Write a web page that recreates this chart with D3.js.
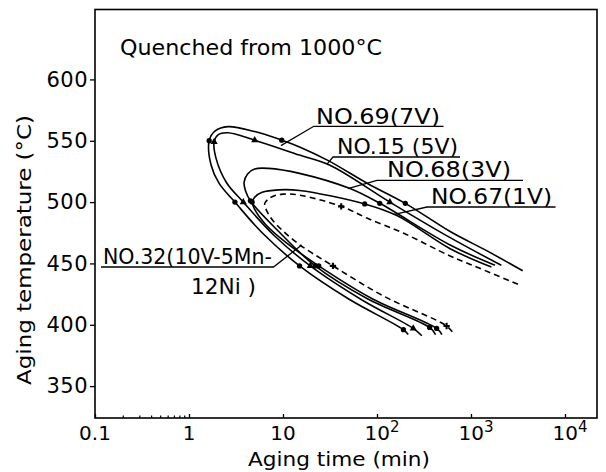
<!DOCTYPE html>
<html>
<head>
<meta charset="utf-8">
<script src="https://cdn.jsdelivr.net/npm/d3@7"></script>
<style>
  body { margin: 0; background: #fff; }
  text { font-family: "DejaVu Sans", sans-serif; fill: #000; }
</style>
</head>
<body>
<div id="chart"></div>
<script>
// C-curves, [aging time (min), temperature (C)]: upper branch end -> nose -> lower branch end
var no69 = [[3550,444],[1500,460],[600,476],[200,499],[80,515],[30,534],[15,545],[9.7,550.5],[5,557.5],[2.6,561.5],[1.9,558],[1.64,550],
            [1.72,530],[2.1,515],[3.08,500],[6,475],[15,448],[50,421],[191,396],[215,392]];
var no15 = [[2100,448.5],[600,471],[137,500],[31.6,530],[15,538.3],[5,550.5],[2.6,556.5],[2.05,555],[1.85,549],
            [1.95,535],[2.5,516],[3.78,500],[8,473],[19.5,448],[70,420],[243,397],[300,391]];
var no68 = [[1800,448.5],[600,465],[107,499],[51.6,511],[15,523.4],[7,527.5],[5,527],[4.2,523],[3.85,516],
            [4,509],[4.5,501],[9,476],[22,448],[80,421],[363,397.8],[420,392]];
var no67 = [[1650,447],[600,462],[163,489],[74,498.5],[15,509.5],[9,510],[6,508],[5,504],[4.7,500],
            [5,494],[6.5,482],[10,469],[24,448],[90,421],[431,397],[490,392]];
var no32 = [[3160,433],[1000,449],[600,456],[200,474],[78,487],[41.6,496.5],[15,505.7],[10,506.5],[8,505],[7,502.5],[6.4,498.9],
            [6.7,493],[8,484],[14,467],[34,448],[120,423],[550,399],[650,393]];

// plotted data points on each curve
var no69Marks = [[9.7,550.5],[1.64,550],[200,499],[3.08,500],[15,448],[191,396]];
var no15Marks = [[5,550.5],[1.85,549],[137,500],[3.78,500],[19.5,448],[243,397]];
var no68Marks = [[107,499],[4.5,501],[22,448],[363,397.8]];
var no67Marks = [[74,498.5],[4.7,500],[24,448],[431,397]];
var no32Marks = [[41.6,496.5],[34,448],[550,399]];

var xTicks = [0.1, 1, 10, 100, 1000, 10000];
var xTickLabels = ["0.1", "1", "10", "10^2", "10^3", "10^4"];
var xMinor = [0.2, 0.3, 0.4, 0.5, 0.6, 0.7, 0.8, 0.9];
var yTicks = [350, 400, 450, 500, 550, 600];

var width = 606, height = 472;
var margin = {top: 9.5, right: 9, bottom: 54, left: 95};

var x = d3.scaleLog()
    .domain([0.1, 21900])
    .range([margin.left, width - margin.right]);
var y = d3.scaleLinear()
    .domain([324, 657])
    .range([height - margin.bottom, margin.top]);

var svg = d3.select("#chart").append("svg")
    .attr("width", width)
    .attr("height", height);

// frame
svg.append("rect")
    .attr("x", margin.left).attr("y", margin.top)
    .attr("width", width - margin.right - margin.left)
    .attr("height", height - margin.bottom - margin.top)
    .attr("fill", "none").attr("stroke", "#000").attr("stroke-width", 1.6);

// y axis
var yAxis = svg.append("g")
    .attr("transform", "translate(" + margin.left + ",0)")
    .call(d3.axisLeft(y).tickValues(yTicks).tickSize(5).tickPadding(2));
yAxis.select(".domain").remove();
yAxis.selectAll("line").attr("stroke-width", 1.3);
yAxis.selectAll("text")
    .style("font-size", "21px")
    .attr("letter-spacing", "0.5px")
    .attr("fill", "#000");

// x axis, ticks pointing inward
var xAxis = svg.append("g")
    .attr("transform", "translate(0," + (height - margin.bottom) + ")")
    .call(d3.axisBottom(x).tickValues(xTicks).tickSize(-4).tickFormat(""));
xAxis.select(".domain").remove();
xAxis.selectAll("line").attr("stroke-width", 1.3);

svg.append("g").selectAll("line")
    .data(xMinor)
  .enter().append("line")
    .attr("x1", function(d) { return x(d); })
    .attr("x2", function(d) { return x(d); })
    .attr("y1", height - margin.bottom)
    .attr("y2", height - margin.bottom - 2.5)
    .attr("stroke", "#000").attr("stroke-width", 1.2);

var xl = svg.append("g").selectAll("text")
    .data(xTicks)
  .enter().append("text")
    .attr("x", function(d) { return x(d); })
    .attr("y", 440)
    .attr("text-anchor", "middle")
    .style("font-size", "20px");
xl.each(function(d, i) {
  var parts = xTickLabels[i].split("^");
  var t = d3.select(this);
  t.append("tspan").text(parts[0]);
  if (parts[1]) {
    t.append("tspan").attr("dy", -8).style("font-size", "15px").text(parts[1]);
    t.attr("dx", 5);
  }
});

// axis titles
svg.append("text")
    .attr("x", 339).attr("y", 466)
    .attr("text-anchor", "middle")
    .attr("textLength", 182).attr("lengthAdjust", "spacingAndGlyphs")
    .style("font-size", "19px")
    .text("Aging time (min)");

svg.append("text")
    .attr("transform", "translate(31,250) rotate(-90)")
    .attr("text-anchor", "middle")
    .attr("textLength", 270).attr("lengthAdjust", "spacingAndGlyphs")
    .style("font-size", "20px")
    .text("Aging temperature (\u00B0C)");

svg.append("text")
    .attr("x", 120).attr("y", 55)
    .attr("textLength", 262).attr("lengthAdjust", "spacingAndGlyphs")
    .style("font-size", "21px")
    .text("Quenched from 1000\u00B0C");

// curves
var series = [
  {pts: no69, marks: no69Marks, dash: null, sym: d3.symbolCircle},
  {pts: no15, marks: no15Marks, dash: null, sym: d3.symbolTriangle},
  {pts: no68, marks: no68Marks, dash: null, sym: d3.symbolCircle},
  {pts: no67, marks: no67Marks, dash: null, sym: d3.symbolCircle},
  {pts: no32, marks: no32Marks, dash: "6,4", sym: d3.symbolCross}
];

var line = d3.line()
    .x(function(d) { return x(d[0]); })
    .y(function(d) { return y(d[1]); })
    .curve(d3.curveCatmullRom.alpha(0.5));

var g = svg.selectAll(".curve")
    .data(series)
  .enter().append("g")
    .attr("class", "curve");

g.append("path")
    .attr("d", function(d) { return line(d.pts); })
    .attr("fill", "none")
    .attr("stroke", "#000")
    .attr("stroke-width", 1.6)
    .attr("stroke-dasharray", function(d) { return d.dash; });

g.each(function(s) {
  d3.select(this).selectAll(".mark")
      .data(s.marks)
    .enter().append("path")
      .attr("class", "mark")
      .attr("transform", function(d) { return "translate(" + x(d[0]) + "," + y(d[1]) + ")"; })
      .attr("d", d3.symbol().type(s.sym).size(22))
      .attr("fill", "#000");
});

// labels with underline and leader
var notes = [
  {text: "NO.69(7V)", tx: 316, ty: 123.6, tw: 124, u0: 313.8, u1: 443.5, uy: 126.3, target: [9.5, 546], from: "left"},
  {text: "NO.15 (5V)", tx: 337, ty: 154.3, tw: 121, u0: 333, u1: 460, uy: 157, target: [29.4, 531], from: "left"},
  {text: "NO.68(3V)", tx: 387, ty: 177, tw: 124, u0: 377, u1: 523, uy: 180.3, target: [49, 511], from: "left"},
  {text: "NO.67(1V)", tx: 431, ty: 204.3, tw: 121, u0: 427, u1: 555.5, uy: 207, target: [153, 490], from: "left"},
  {text: "NO.32(10V-5Mn-", tx: 103, ty: 263.6, tw: 169, u0: 101, u1: 273.5, uy: 267, target: [15.8, 465], from: "right"}
];

var n = svg.selectAll(".note")
    .data(notes)
  .enter().append("g")
    .attr("class", "note");

n.append("text")
    .attr("x", function(d) { return d.tx; })
    .attr("y", function(d) { return d.ty; })
    .attr("textLength", function(d) { return d.tw; })
    .attr("lengthAdjust", "spacingAndGlyphs")
    .style("font-size", "21px")
    .text(function(d) { return d.text; });

n.append("polyline")
    .attr("points", function(d) {
      var sx = d.from == "left" ? d.u0 : d.u1;
      var other = d.from == "left" ? d.u1 : d.u0;
      return [[other, d.uy], [sx, d.uy], [x(d.target[0]), y(d.target[1])]].join(" ");
    })
    .attr("fill", "none")
    .attr("stroke", "#000")
    .attr("stroke-width", 1.3);

svg.append("text")
    .attr("x", 191).attr("y", 293.6)
    .attr("textLength", 65).attr("lengthAdjust", "spacingAndGlyphs")
    .style("font-size", "21px")
    .text("12Ni )");
</script>
</body>
</html>
